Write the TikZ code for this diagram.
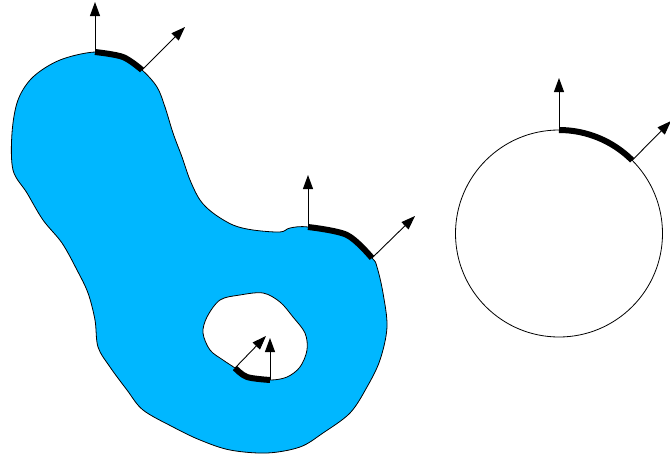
\documentclass[tikz,border=0pt]{standalone}
\usetikzlibrary{arrows.meta,calc}
\definecolor{blobblue}{RGB}{0,183,255}
\begin{document}
\begin{tikzpicture}[x=1pt,y=-1pt,
  outline/.style={draw=black,line width=0.8pt},
  thickarc/.style={draw=black,line width=6pt},
  normal/.style={draw=black,line width=0.9pt,-{Triangle[length=14pt,width=10pt]}}]
\useasboundingbox (0,0) rectangle (670,458);
% blob
\draw[outline,fill=blobblue] plot[smooth cycle,tension=0.55] coordinates {
(95,52) (123,57) (142,70) (157,87) (165,107) (173,133) (182,157) (190,180) (200,200) (213,213) (233,225) (253,230) (280,232) (290,228) (308,227) (347,235) (372,258) (377,267) (383,293) (387,327) (380,360) (367,387) (350,413) (323,433) (300,447) (267,453) (230,450) (200,440) (173,427) (143,410) (127,390) (110,367) (98,347) (95,320) (88,293) (77,270) (62,243) (43,220) (27,193) (13,170) (12,133) (18,100) (33,77) (60,60)};
% hole
\draw[outline,fill=white] plot[smooth cycle,tension=0.55] coordinates {
(203,333) (207,317) (220,300) (240,295) (263,293) (280,302) (293,317) (305,333) (307,350) (300,367) (287,377) (270,380) (247,377) (235,368) (223,360) (210,350)};
% thick boundary pieces on blob
\draw[thickarc] plot[smooth,tension=0.55] coordinates {(95,52) (123,57) (142,70)};
\draw[thickarc] plot[smooth,tension=0.55] coordinates {(308,227) (347,235) (372,258)};
\draw[thickarc] plot[smooth,tension=0.55] coordinates {(235,368) (247,377) (270,380)};
% named points
\coordinate (a1) at (95,52);   \coordinate (a1t) at (95,2);
\coordinate (a2) at (142,70);  \coordinate (a2t) at (185,27);
\coordinate (b1) at (308,227); \coordinate (b1t) at (308,175);
\coordinate (b2) at (372,258); \coordinate (b2t) at (415,216);
\coordinate (h1) at (270,380); \coordinate (h1t) at (270,338);
\coordinate (h2) at (235,368); \coordinate (h2t) at (266,336);
% circle
\coordinate (cc) at (559,233.5);
\draw[outline] (cc) circle[radius=103.5];
\draw[thickarc] ($(cc)+(0,-103.5)$) arc[start angle=-90,end angle=-45,radius=103.5];
\coordinate (c1) at (559,130);  \coordinate (c1t) at (559,78);
\coordinate (c2) at ($(cc)+(73.2,-73.2)$); \coordinate (c2t) at (671,121);
% normals
\foreach \s/\t in {a1/a1t,a2/a2t,b1/b1t,b2/b2t,h1/h1t,h2/h2t,c1/c1t,c2/c2t}
  \draw[normal] (\s) -- (\t);
\end{tikzpicture}
\end{document}
